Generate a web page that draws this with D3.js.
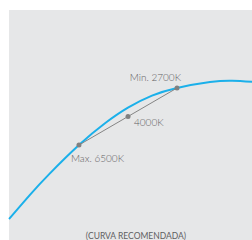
<!DOCTYPE html>
<html>
<head>
<meta charset="utf-8">
<script src="https://cdn.jsdelivr.net/npm/d3@7"></script>
<style>
  body { margin: 0; background: #fff; }
  svg { display: block; }
  .label { font-family: Lato, "Open Sans", sans-serif; font-weight: 300; fill: #5f6062; }
</style>
</head>
<body>
<div id="chart"></div>
<script>

// chromaticity-like coordinates of the drawn curve
var curve_x = [0.209, 0.2403, 0.2687, 0.3135, 0.3524, 0.3867, 0.4226, 0.460, 0.5093, 0.5422, 0.5721];
var curve_y = [0.2109, 0.2478, 0.279, 0.3237, 0.3568, 0.3806, 0.3989, 0.4106, 0.4196, 0.4216, 0.420];

// tunable white points (6500K and 2700K on curve, 4000K on the chord)
var point_names = ["Max. 6500K", "4000K", "Min. 2700K"];
var point_x = [0.3135, 0.3868, 0.460];
var point_y = [0.3237, 0.3672, 0.4106];

var caption = "(CURVA RECOMENDADA)";

var params = {
    width: 252, height: 240,
    left: 9, top: 10
};

var svg = d3.select("#chart")
            .append("svg")
            .attr("width", params.width)
            .attr("height", params.height);

// plot background
svg.append("rect")
    .attr("x", params.left)
    .attr("y", params.top)
    .attr("width", params.width - params.left)
    .attr("height", params.height - params.top)
    .style("fill", "#e6e7e8");

var x = d3.scaleLinear().domain([0.209, 0.572]).range([params.left, params.width]);
var y = d3.scaleLinear().domain([0.1789, 0.5295]).range([params.height, params.top]);

var curve = d3.zip(curve_x, curve_y);
var pts = d3.zip(point_x, point_y, point_names);

var line = d3.line()
             .x(function(d) { return x(d[0]); })
             .y(function(d) { return y(d[1]); })
             .curve(d3.curveNatural);

svg.append("path")
    .datum(curve)
    .attr("d", line)
    .style("fill", "none")
    .style("stroke", "#1bb0ea")
    .style("stroke-width", 2);

// chord between the two extreme points
svg.append("path")
    .datum([pts[0], pts[2]])
    .attr("d", d3.line().x(function(d) { return x(d[0]); }).y(function(d) { return y(d[1]); }))
    .style("fill", "none")
    .style("stroke", "#858585")
    .style("stroke-width", 1);

svg.selectAll(".dot")
    .data(pts).enter()
    .append("circle")
        .attr("class", "dot")
        .attr("cx", function(d) { return x(d[0]); })
        .attr("cy", function(d) { return y(d[1]); })
        .attr("r", 2.5)
        .style("fill", "#808080");

// label offsets: max, mid, min
var offs = [[-8, 16.5, "start"], [6, 10, "start"], [4, -7, "end"]];

svg.selectAll(".ptlabel")
    .data(pts).enter()
    .append("text")
        .attr("class", "label ptlabel")
        .attr("x", function(d, i) { return x(d[0]) + offs[i][0]; })
        .attr("y", function(d, i) { return y(d[1]) + offs[i][1]; })
        .attr("text-anchor", function(d, i) { return offs[i][2]; })
        .style("font-size", "10px")
        .text(function(d) { return d[2]; });

svg.append("text")
    .attr("class", "label")
    .attr("x", 136)
    .attr("y", 239)
    .attr("text-anchor", "middle")
    .style("font-size", "8.5px")
    .style("font-weight", 400)
    .text(caption);

</script>
</body>
</html>
